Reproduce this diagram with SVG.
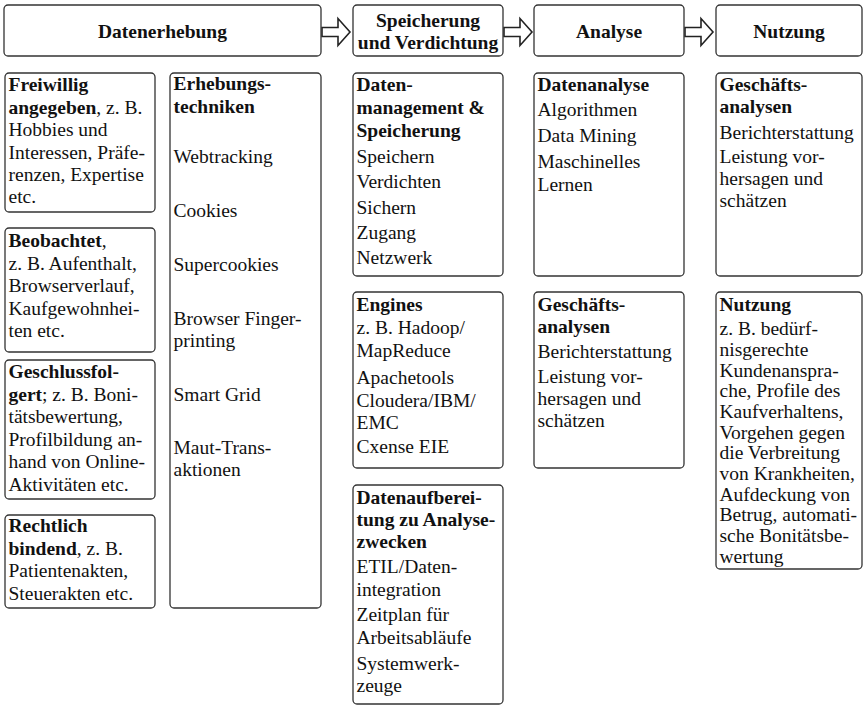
<svg xmlns="http://www.w3.org/2000/svg" width="865" height="706" viewBox="0 0 865 706">
<style>
.box{fill:#fff;stroke:#333;stroke-width:1.3}
.t{font-family:"Liberation Serif","Times New Roman",serif;font-size:19.5px;fill:#111}
.b{font-weight:bold}
.h{font-weight:bold;text-anchor:middle}
.arrow{fill:#fff;stroke:#222;stroke-width:1.6;stroke-linejoin:miter}
</style>
<rect width="865" height="706" fill="#fff"/>
<defs>
<path id="blk" d="M0,-4.5 H16 V-13.5 L28,0 L16,13.5 V4.5 H0 Z"/>
</defs>
<g id="connectors">
<use href="#blk" class="arrow" x="322" y="32"/>
<use href="#blk" class="arrow" x="504" y="32"/>
<use href="#blk" class="arrow" x="685" y="32"/>
</g>
<g id="h-datenerhebung"><rect class="box" x="4" y="5" width="317" height="51" rx="4"/><text class="t h" x="162.5" y="38">Datenerhebung</text></g>
<g id="h-speicherung"><rect class="box" x="353" y="5" width="150" height="51" rx="4"/><text class="t h" x="428" y="27">Speicherung</text><text class="t h" x="428" y="49">und Verdichtung</text></g>
<g id="h-analyse"><rect class="box" x="534" y="5" width="150" height="51" rx="4"/><text class="t h" x="609" y="38">Analyse</text></g>
<g id="h-nutzung"><rect class="box" x="716" y="5" width="146" height="51" rx="4"/><text class="t h" x="789" y="38">Nutzung</text></g>

<g id="freiwillig"><rect class="box" x="5" y="73" width="150" height="139" rx="4"/>
<text class="t" x="8.5" y="91"><tspan class="b">Freiwillig</tspan></text>
<text class="t" x="8.5" y="113.5"><tspan class="b">angegeben</tspan>, z. B.</text>
<text class="t" x="8.5" y="136">Hobbies und</text>
<text class="t" x="8.5" y="158.5">Interessen, Präfe-</text>
<text class="t" x="8.5" y="181">renzen, Expertise</text>
<text class="t" x="8.5" y="203">etc.</text></g>

<g id="beobachtet"><rect class="box" x="5" y="228" width="150" height="124" rx="4"/>
<text class="t" x="8.5" y="247"><tspan class="b">Beobachtet</tspan>,</text>
<text class="t" x="8.5" y="269.5">z. B. Aufenthalt,</text>
<text class="t" x="8.5" y="292">Browserverlauf,</text>
<text class="t" x="8.5" y="314.5">Kaufgewohnhei-</text>
<text class="t" x="8.5" y="337">ten etc.</text></g>

<g id="geschlussfolgert"><rect class="box" x="5" y="360" width="150" height="139" rx="4"/>
<text class="t" x="8.5" y="378"><tspan class="b">Geschlussfol-</tspan></text>
<text class="t" x="8.5" y="400.5"><tspan class="b">gert</tspan>; z. B. Boni-</text>
<text class="t" x="8.5" y="423">tätsbewertung,</text>
<text class="t" x="8.5" y="445.5">Profilbildung an-</text>
<text class="t" x="8.5" y="468">hand von Online-</text>
<text class="t" x="8.5" y="490.5">Aktivitäten etc.</text></g>

<g id="rechtlich"><rect class="box" x="5" y="515" width="150" height="93" rx="4"/>
<text class="t" x="8.5" y="532"><tspan class="b">Rechtlich</tspan></text>
<text class="t" x="8.5" y="554.5"><tspan class="b">bindend</tspan>, z. B.</text>
<text class="t" x="8.5" y="577">Patientenakten,</text>
<text class="t" x="8.5" y="599.5">Steuerakten etc.</text></g>

<g id="erhebungstechniken"><rect class="box" x="170" y="73" width="151" height="535" rx="4"/>
<text class="t b" x="173.5" y="90">Erhebungs-</text>
<text class="t b" x="173.5" y="112.5">techniken</text>
<text class="t" x="173.5" y="163">Webtracking</text>
<text class="t" x="173.5" y="217">Cookies</text>
<text class="t" x="173.5" y="271">Supercookies</text>
<text class="t" x="173.5" y="325">Browser Finger-</text>
<text class="t" x="173.5" y="347">printing</text>
<text class="t" x="173.5" y="401">Smart Grid</text>
<text class="t" x="173.5" y="454">Maut-Trans-</text>
<text class="t" x="173.5" y="476">aktionen</text></g>

<g id="datenmanagement"><rect class="box" x="353" y="73" width="150" height="203" rx="4"/>
<text class="t b" x="356.5" y="91">Daten-</text>
<text class="t b" x="356.5" y="114">management &amp;</text>
<text class="t b" x="356.5" y="137">Speicherung</text>
<text class="t" x="356.5" y="163">Speichern</text>
<text class="t" x="356.5" y="188">Verdichten</text>
<text class="t" x="356.5" y="214">Sichern</text>
<text class="t" x="356.5" y="239">Zugang</text>
<text class="t" x="356.5" y="264">Netzwerk</text></g>

<g id="engines"><rect class="box" x="353" y="292" width="150" height="176" rx="4"/>
<text class="t b" x="356.5" y="311">Engines</text>
<text class="t" x="356.5" y="334">z. B. Hadoop/</text>
<text class="t" x="356.5" y="357">MapReduce</text>
<text class="t" x="356.5" y="384">Apachetools</text>
<text class="t" x="356.5" y="407">Cloudera/IBM/</text>
<text class="t" x="356.5" y="429">EMC</text>
<text class="t" x="356.5" y="453">Cxense EIE</text></g>

<g id="datenaufbereitung"><rect class="box" x="353" y="485" width="150" height="219" rx="4"/>
<text class="t b" x="356.5" y="504">Datenaufberei-</text>
<text class="t b" x="356.5" y="526">tung zu Analyse-</text>
<text class="t b" x="356.5" y="548">zwecken</text>
<text class="t" x="356.5" y="573">ETIL/Daten-</text>
<text class="t" x="356.5" y="596">integration</text>
<text class="t" x="356.5" y="621">Zeitplan für</text>
<text class="t" x="356.5" y="644">Arbeitsabläufe</text>
<text class="t" x="356.5" y="670">Systemwerk-</text>
<text class="t" x="356.5" y="692">zeuge</text></g>

<g id="datenanalyse"><rect class="box" x="534" y="73" width="150" height="203" rx="4"/>
<text class="t b" x="537.5" y="91">Datenanalyse</text>
<text class="t" x="537.5" y="116">Algorithmen</text>
<text class="t" x="537.5" y="142">Data Mining</text>
<text class="t" x="537.5" y="168">Maschinelles</text>
<text class="t" x="537.5" y="191">Lernen</text></g>

<g id="geschaeftsanalysen-a"><rect class="box" x="534" y="292" width="150" height="176" rx="4"/>
<text class="t b" x="537.5" y="311">Geschäfts-</text>
<text class="t b" x="537.5" y="333">analysen</text>
<text class="t" x="537.5" y="358">Berichterstattung</text>
<text class="t" x="537.5" y="383">Leistung vor-</text>
<text class="t" x="537.5" y="405">hersagen und</text>
<text class="t" x="537.5" y="427">schätzen</text></g>

<g id="geschaeftsanalysen-n"><rect class="box" x="716" y="73" width="146" height="203" rx="4"/>
<text class="t b" x="719.5" y="91">Geschäfts-</text>
<text class="t b" x="719.5" y="113">analysen</text>
<text class="t" x="719.5" y="139">Berichterstattung</text>
<text class="t" x="719.5" y="163">Leistung vor-</text>
<text class="t" x="719.5" y="185">hersagen und</text>
<text class="t" x="719.5" y="207">schätzen</text></g>

<g id="nutzung"><rect class="box" x="716" y="292" width="146" height="277" rx="4"/>
<text class="t b" x="719.5" y="311">Nutzung</text>
<text class="t" x="719.5" y="335">z. B. bedürf-</text>
<text class="t" x="719.5" y="356">nisgerechte</text>
<text class="t" x="719.5" y="376.5">Kundenanspra-</text>
<text class="t" x="719.5" y="397">che, Profile des</text>
<text class="t" x="719.5" y="418">Kaufverhaltens,</text>
<text class="t" x="719.5" y="438.5">Vorgehen gegen</text>
<text class="t" x="719.5" y="459">die Verbreitung</text>
<text class="t" x="719.5" y="480">von Krankheiten,</text>
<text class="t" x="719.5" y="500.5">Aufdeckung von</text>
<text class="t" x="719.5" y="521">Betrug, automati-</text>
<text class="t" x="719.5" y="542">sche Bonitätsbe-</text>
<text class="t" x="719.5" y="562.5">wertung</text></g>
</svg>
